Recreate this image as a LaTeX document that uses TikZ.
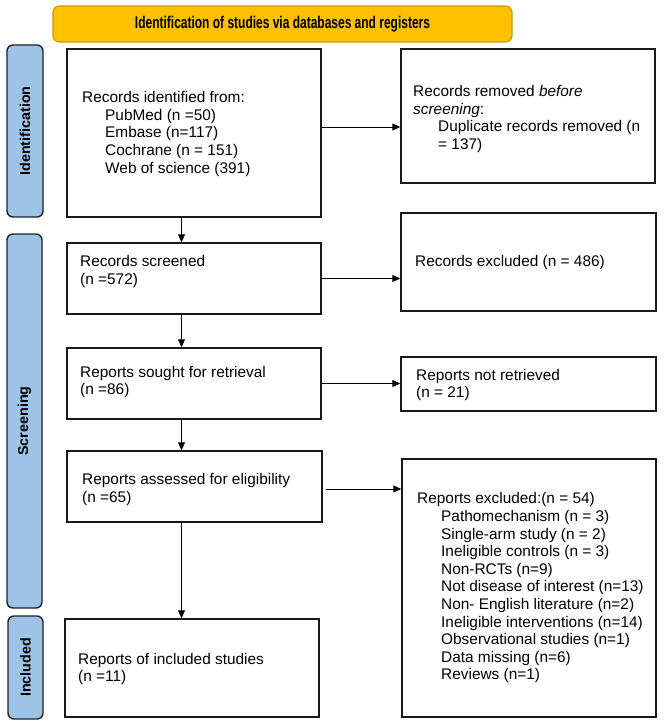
\documentclass[tikz,border=0pt]{standalone}
\usepackage{graphicx}
\usepackage{fontspec}
\setmainfont{Liberation Sans}
\usetikzlibrary{arrows.meta}
\definecolor{gold}{RGB}{255,192,0}
\definecolor{goldline}{RGB}{205,152,10}
\definecolor{barblue}{RGB}{157,195,230}
\definecolor{barline}{RGB}{30,35,45}
\begin{document}
\begin{tikzpicture}[x=1pt,y=-1pt,
  box/.style={draw=black!90, line width=1.4pt, inner sep=0pt},
  bar/.style={draw=barline, fill=barblue, line width=1.4pt, rounded corners=6pt, inner sep=0pt},
  txt/.style={font=\fontsize{15.4}{17.6}\selectfont, align=left, inner sep=0pt, anchor=west},
  barlbl/.style={font=\fontsize{14.3}{16}\selectfont\bfseries, rotate=90, inner sep=0pt},
  arr/.style={-{Triangle[length=8pt,width=7pt]}, line width=0.9pt}]
\useasboundingbox (0,0) rectangle (666,724);
% banner
\node[draw=goldline, fill=gold, line width=1.1pt, rounded corners=6pt, minimum width=459pt, minimum height=36pt, inner sep=0pt] (ban) at (282.5,24) {};
\node[font=\fontsize{17}{19}\selectfont\bfseries, inner sep=0pt] (bant) at (ban.center) {\resizebox{295pt}{\height}{Identification of studies via databases and registers}};
% side bars
\node[bar, minimum width=36pt, minimum height=172pt] (bid) at (25,131) {};
\node[barlbl] (bidt) at (bid.center) {Identification};
\node[bar, minimum width=35pt, minimum height=374pt] (bsc) at (24.5,421) {};
\node[barlbl] (bsct) at (bsc.center) {Screening};
\node[bar, minimum width=35pt, minimum height=103pt] (bin) at (25.5,667.5) {};
\node[barlbl] (bint) at (bin.center) {Included};
% boxes
\node[box, minimum width=254pt, minimum height=168pt] (b1) at (194,133) {};
\node[box, minimum width=254pt, minimum height=134pt] (rem) at (528,116) {};
\node[box, minimum width=254pt, minimum height=71pt] (scr) at (194,278.5) {};
\node[box, minimum width=255pt, minimum height=98pt] (exc) at (528.5,262) {};
\node[box, minimum width=254pt, minimum height=71pt] (sou) at (194,383.5) {};
\node[box, minimum width=255pt, minimum height=54pt] (nr) at (528.5,384) {};
\node[box, minimum width=255pt, minimum height=71pt] (ass) at (194.5,486.5) {};
\node[box, minimum width=254pt, minimum height=258pt] (rex) at (529,588) {};
\node[box, minimum width=254pt, minimum height=98pt] (inc) at (192,668) {};
% texts
\node[txt] (t1) at (82,134) {Records identified from:\\
\hspace*{23pt}PubMed (n =50)\\
\hspace*{23pt}Embase (n=117)\\
\hspace*{23pt}Cochrane (n = 151)\\
\hspace*{23pt}Web of science (391)};
\node[txt] (t2) at (413,119) {Records removed \textit{before}\\
\textit{screening}:\\
\hspace*{25pt}Duplicate records removed (n\\
\hspace*{25pt}= 137)};
\node[txt] (t3) at (80,271.5) {Records screened\\(n =572)};
\node[txt] (t4) at (415,263) {Records excluded (n = 486)};
\node[txt] (t5) at (80,382) {Reports sought for retrieval\\(n =86)};
\node[txt] (t6) at (416,385) {Reports not retrieved\\(n = 21)};
\node[txt] (t7) at (82,489.5) {Reports assessed for eligibility\\(n =65)};
\node[txt] (t8) at (417,588) {Reports excluded:(n = 54)\\
\hspace*{24pt}Pathomechanism (n = 3)\\
\hspace*{24pt}Single-arm study (n = 2)\\
\hspace*{24pt}Ineligible controls (n = 3)\\
\hspace*{24pt}Non-RCTs (n=9)\\
\hspace*{24pt}Not disease of interest (n=13)\\
\hspace*{24pt}Non- English literature (n=2)\\
\hspace*{24pt}Ineligible interventions (n=14)\\
\hspace*{24pt}Observational studies (n=1)\\
\hspace*{24pt}Data missing (n=6)\\
\hspace*{24pt}Reviews (n=1)};
\node[txt] (t9) at (78,669) {Reports of included studies\\(n =11)};
% connectors
\coordinate (ax) at (181.5,0);
\draw[arr] (b1.south -| ax) -- (scr.north -| ax);
\draw[arr] (scr.south -| ax) -- (sou.north -| ax);
\draw[arr] (sou.south -| ax) -- (ass.north -| ax);
\draw[arr] (ass.south -| ax) -- (inc.north -| ax);
\coordinate (a1) at ([yshift=6pt]b1.east);
\draw[arr] (a1) -- (a1 -| rem.west);
\draw[arr] (scr.east) -- (scr.east -| exc.west);
\draw[arr] (sou.east) -- (sou.east -| nr.west);
\coordinate (a4) at ([xshift=3pt,yshift=-2.5pt]ass.east);
\draw[arr] (a4) -- (a4 -| rex.west);
\end{tikzpicture}
\end{document}
